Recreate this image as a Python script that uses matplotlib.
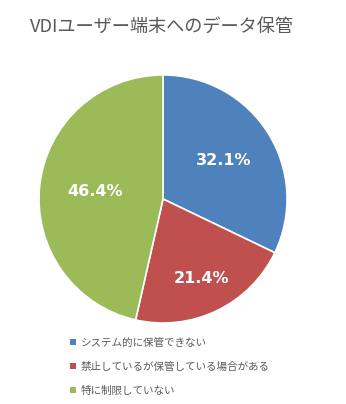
import numpy as np
import matplotlib
matplotlib.use("Agg")
import matplotlib.pyplot as plt
from matplotlib.patches import Patch

plt.rcParams['font.family'] = ['Noto Sans CJK JP', 'DejaVu Sans']

title = 'VDIユーザー端末へのデータ保管'
categories = ['システム的に保管できない', '禁止しているが保管している場合がある', '特に制限していない']
values = [32.1, 21.4, 46.4]
colors = ['#4F81BD', '#C0504D', '#9BBB59']
label_dist = [0.58, 0.71, 0.55]  # where Excel put each data label, as fraction of radius

fig = plt.figure(figsize=(3.46, 4.04), dpi=100)
ax = fig.add_axes([0.1127, 0.2005, 0.717, 0.614])

wedges, _ = ax.pie(values, colors=colors, startangle=90, counterclock=False,
                   wedgeprops=dict(edgecolor='white', linewidth=1.2))
ax.set_aspect('equal')
ax.set_xlim(-1, 1)
ax.set_ylim(-1, 1)

for w, v, d in zip(wedges, values, label_dist):
    ang = np.deg2rad((w.theta1 + w.theta2) / 2)
    ax.text(d * np.cos(ang), d * np.sin(ang), f'{v:.1f}%', ha='center', va='center',
            color='white', fontsize=11.5, fontweight='bold', family='DejaVu Sans')

fig.text(30 / 346, 1 - 28 / 404, title, ha='left', va='center', fontsize=13.1, color='#595959')

handles = [Patch(facecolor=c, edgecolor='none') for c in colors]
fig.legend(handles, categories, loc='upper left', bbox_to_anchor=(70 / 346, 1 - 338 / 404),
           frameon=False, fontsize=7.6, labelcolor='#595959', handlelength=0.55,
           handleheight=0.55, handletextpad=0.5, labelspacing=1.3, borderpad=0, borderaxespad=0)

fig.savefig('out.png', dpi=100)
